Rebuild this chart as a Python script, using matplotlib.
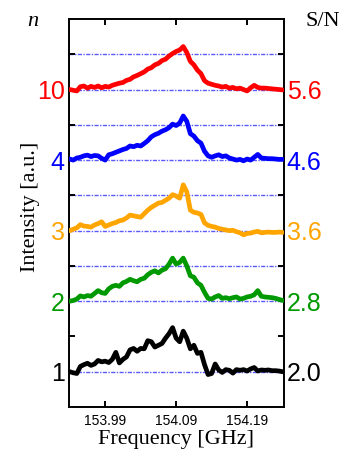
import matplotlib
matplotlib.use("Agg")
import matplotlib.pyplot as plt
import matplotlib.transforms as mtransforms

# frequency axis (GHz), shared by all spectra
freq = [153.940, 153.945, 153.950, 153.955, 153.960, 153.965, 153.970, 153.975, 153.980, 153.985,
        153.990, 153.995, 154.000, 154.005, 154.010, 154.015, 154.020, 154.025, 154.030, 154.035,
        154.040, 154.045, 154.050, 154.055, 154.060, 154.065, 154.070, 154.075, 154.080, 154.085,
        154.090, 154.095, 154.100, 154.105, 154.110, 154.115, 154.120, 154.125, 154.130, 154.135,
        154.140, 154.145, 154.150, 154.155, 154.160, 154.165, 154.170, 154.175, 154.180, 154.185,
        154.190, 154.195, 154.200, 154.205, 154.210, 154.215, 154.220, 154.225, 154.230, 154.235,
        154.240]

# intensities (a.u.), relative to each trace's own baseline
int_n1 = [0.00, -0.03, -0.05, 0.15, 0.20, 0.24, 0.18, 0.22, 0.32, 0.28,
          0.30, 0.26, 0.35, 0.55, 0.25, 0.35, 0.42, 0.62, 0.66, 0.58,
          0.66, 0.65, 0.88, 0.85, 0.70, 0.75, 0.80, 0.95, 1.08, 1.25,
          0.95, 0.85, 1.15, 0.95, 0.65, 0.75, 0.52, 0.55, 0.20, -0.08,
          -0.05, 0.22, 0.05, -0.02, 0.06, 0.04, -0.04, 0.06, 0.04, 0.06,
          0.02, 0.08, 0.12, 0.02, 0.05, 0.04, 0.05, 0.03, 0.03, 0.02,
          0.00]
int_n2 = [0.00, 0.02, 0.06, 0.15, 0.12, 0.16, 0.14, 0.22, 0.30, 0.24,
          0.22, 0.35, 0.42, 0.45, 0.42, 0.52, 0.56, 0.62, 0.58, 0.55,
          0.62, 0.65, 0.75, 0.82, 0.86, 0.80, 0.88, 0.92, 1.05, 1.22,
          1.05, 1.10, 1.22, 1.00, 0.72, 0.68, 0.52, 0.45, 0.25, 0.08,
          0.06, 0.12, 0.16, 0.08, 0.10, 0.07, 0.10, 0.12, 0.06, 0.08,
          0.12, 0.14, 0.18, 0.30, 0.14, 0.12, 0.11, 0.10, 0.08, 0.05,
          0.02]
int_n3 = [0.00, 0.04, 0.08, 0.17, 0.13, 0.12, 0.10, 0.16, 0.20, 0.25,
          0.12, 0.16, 0.20, 0.23, 0.28, 0.30, 0.36, 0.44, 0.42, 0.40,
          0.38, 0.48, 0.58, 0.66, 0.72, 0.78, 0.80, 0.86, 0.92, 1.02,
          0.98, 0.92, 1.30, 1.10, 0.58, 0.52, 0.50, 0.46, 0.22, 0.15,
          0.12, 0.10, 0.06, 0.04, 0.02, 0.00, 0.01, -0.03, -0.06, -0.12,
          -0.08, -0.07, -0.04, -0.02, -0.06, -0.05, -0.04, -0.05, -0.05, -0.04,
          -0.05]
int_n4 = [0.03, 0.00, 0.06, 0.08, 0.12, 0.14, 0.10, 0.13, 0.12, 0.05,
          0.00, 0.15, 0.18, 0.22, 0.26, 0.30, 0.33, 0.40, 0.38, 0.42,
          0.40, 0.47, 0.55, 0.66, 0.72, 0.76, 0.82, 0.86, 0.92, 1.02,
          0.98, 1.05, 1.25, 1.10, 0.75, 0.68, 0.55, 0.48, 0.25, 0.12,
          0.08, 0.12, 0.15, 0.10, 0.12, 0.06, 0.03, 0.00, 0.02, -0.02,
          0.03, 0.00, 0.08, 0.16, 0.06, 0.05, 0.04, 0.04, 0.03, 0.02,
          0.02]
int_n10 = [0.00, -0.02, -0.04, 0.08, 0.10, 0.04, 0.09, 0.06, 0.10, 0.05,
           0.09, 0.07, 0.12, 0.15, 0.18, 0.20, 0.26, 0.29, 0.36, 0.40,
           0.45, 0.50, 0.58, 0.62, 0.70, 0.74, 0.82, 0.86, 0.95, 1.02,
           1.08, 1.12, 1.22, 1.05, 0.80, 0.70, 0.55, 0.45, 0.25, 0.18,
           0.15, 0.12, 0.10, 0.07, 0.09, 0.04, 0.06, 0.02, 0.04, 0.00,
           -0.04, 0.05, 0.12, 0.06, 0.04, 0.04, 0.03, 0.02, 0.01, 0.00,
           -0.01]

spectra = [int_n1, int_n2, int_n3, int_n4, int_n10]
n_labels = ["1", "2", "3", "4", "10"]
sn_labels = ["2.0", "2.8", "3.6", "4.6", "5.6"]
colors = ["black", "#009900", "#FFA500", "#0000FF", "#FF0000"]
offsets = [0, 2, 4, 6, 8]
ref_levels = [0, 2, 3, 4, 5, 6, 7, 8, 9]

xticks = [153.99, 154.09, 154.19]
yticks = [1, 3, 5, 7, 9]

sans = ["Liberation Sans", "DejaVu Sans"]
serif = ["Liberation Serif", "DejaVu Serif"]

fig = plt.figure(figsize=(3.47, 4.52), dpi=100)
ax = fig.add_axes([69 / 347, 1 - 408 / 452, 215 / 347, 388 / 452])

for lv in ref_levels:
    ax.axhline(lv, color="#5a5aff", lw=1.0, ls=(0, (3, 1, 1, 1)), zorder=1)

for y, off, c in zip(spectra, offsets, colors):
    ax.plot(freq, [v + off for v in y], color=c, lw=3.4, zorder=3,
            solid_joinstyle="round", solid_capstyle="round")

ax.set_xlim(153.939, 154.242)
ax.set_ylim(-1, 10)
ax.set_xticks(xticks)
ax.set_xticklabels([f"{t:.2f}" for t in xticks], family=sans, fontsize=10)
ax.set_yticks(yticks)
ax.tick_params(direction="in", length=4, width=1.4, top=True, right=True,
               labelleft=False, pad=4)
for s in ax.spines.values():
    s.set_linewidth(1.4)

trans = mtransforms.blended_transform_factory(ax.transAxes, ax.transData)
for off, c, nl, sl in zip(offsets, colors, n_labels, sn_labels):
    ax.text(-0.02, off - 0.05, nl, color=c, transform=trans, ha="right",
            va="center", family=sans, fontsize=18)
    ax.text(1.012, off - 0.05, sl, color=c, transform=trans, ha="left",
            va="center", family=sans, fontsize=18)

fig.text(176 / 347, 1 - 440 / 452, "Frequency [GHz]", ha="center", va="center",
         family=serif, fontsize=16)
fig.text(30 / 347, 1 - 207 / 452, "Intensity [a.u.]", ha="center", va="center",
         rotation=90, family=serif, fontsize=16)
fig.text(33 / 347, 1 - 21 / 452, "n", ha="center", va="center",
         family=serif, style="italic", fontsize=16)
fig.text(323 / 347, 1 - 21 / 452, "S/N", ha="center", va="center",
         family=serif, fontsize=16)

fig.savefig("out.png", dpi=100)
